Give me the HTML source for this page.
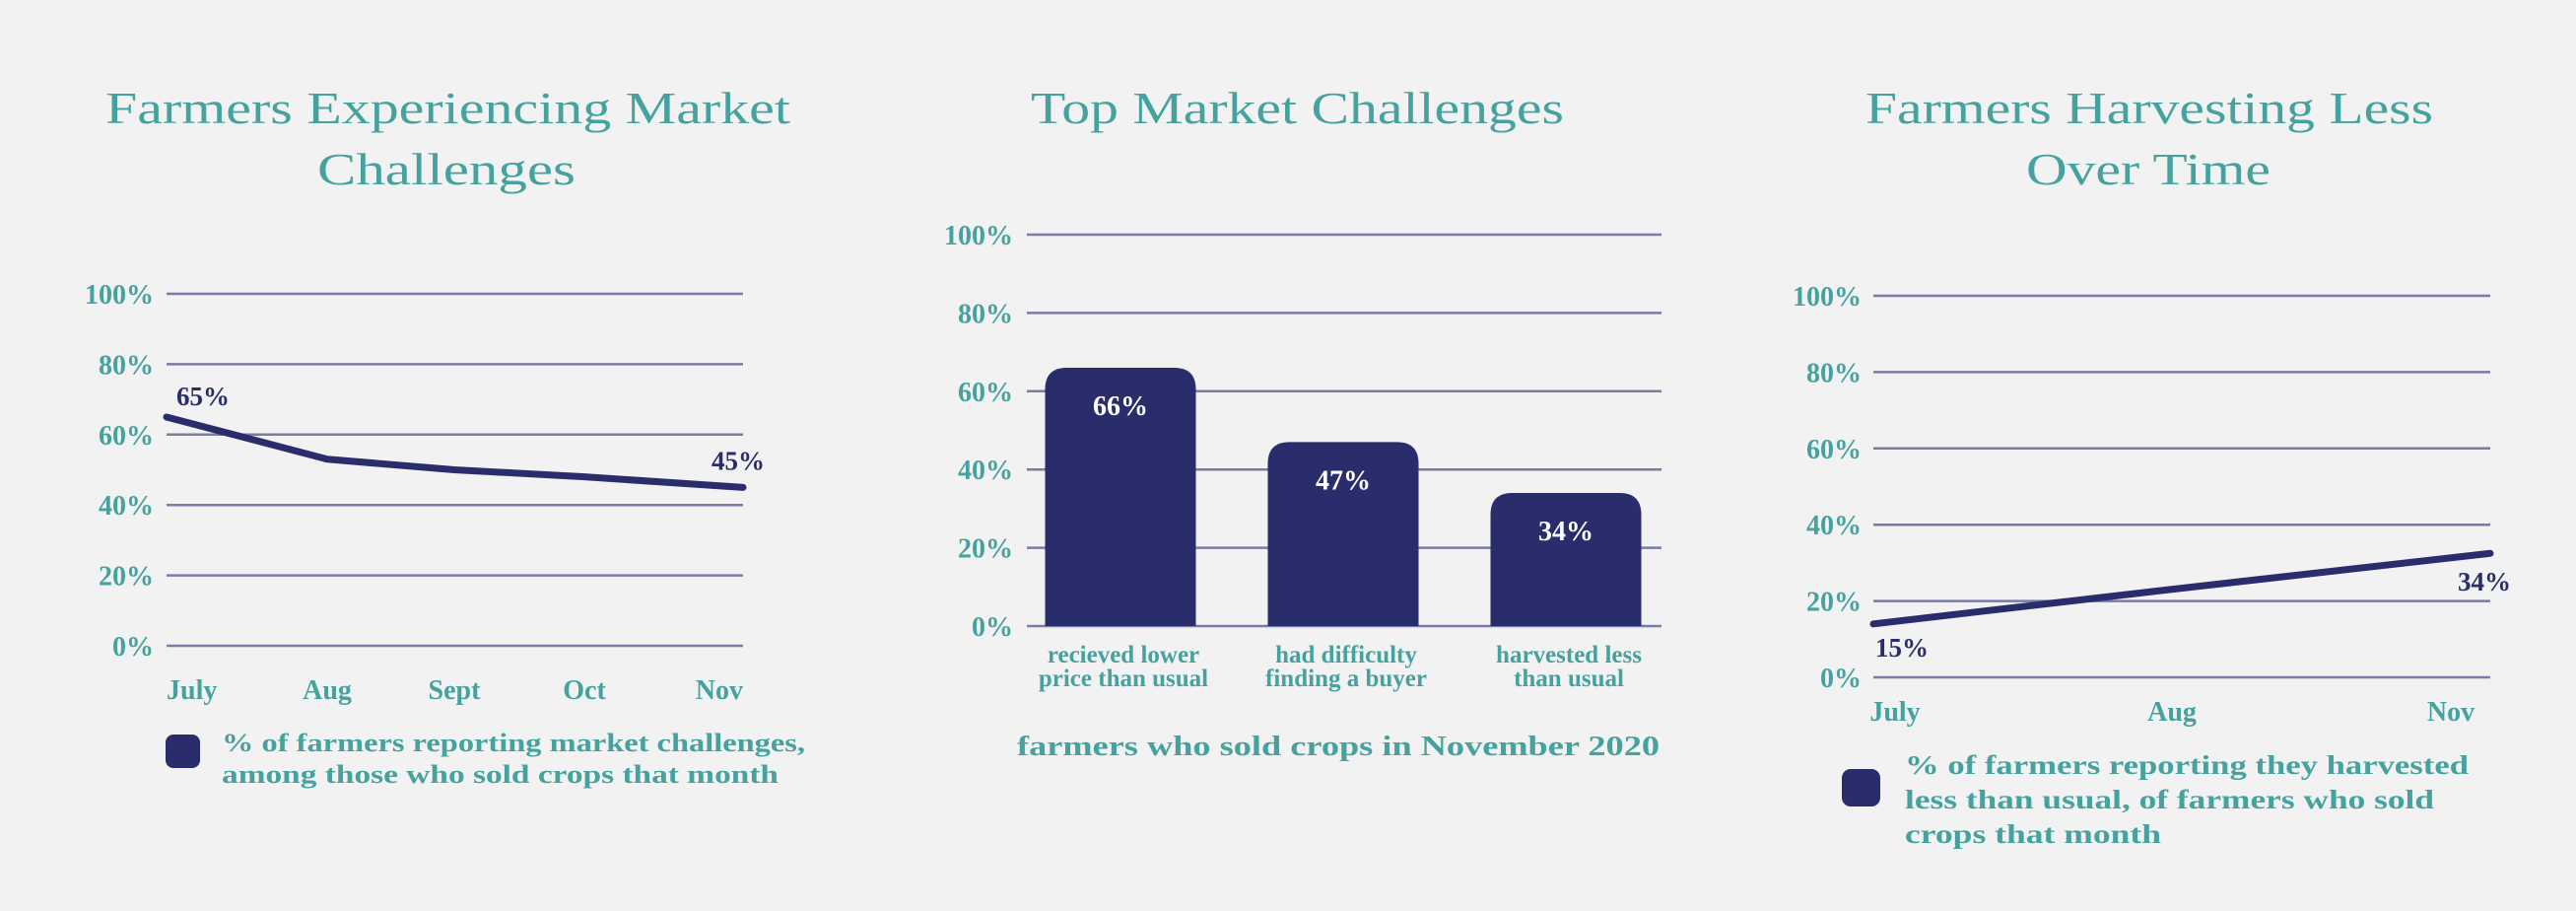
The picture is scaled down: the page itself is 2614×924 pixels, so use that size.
<!DOCTYPE html>
<html><head><meta charset="utf-8"><style>
html,body{margin:0;padding:0;background:#f2f2f2;}
svg{display:block;}
.t{font-family:"Liberation Serif",serif;fill:#45a29e;font-size:46px;}
.b{font-family:"Liberation Serif",serif;font-weight:bold;}
</style></head><body>
<svg id="s" width="2614" height="924" viewBox="0 0 2614 924" xmlns="http://www.w3.org/2000/svg">
<rect width="2614" height="924" fill="#f2f2f2"/>
<text class="t" x="107" y="125" textLength="695" lengthAdjust="spacingAndGlyphs">Farmers Experiencing Market</text>
<text class="t" x="322" y="187" textLength="262" lengthAdjust="spacingAndGlyphs">Challenges</text>
<text class="t" x="1046" y="125" textLength="541" lengthAdjust="spacingAndGlyphs">Top Market Challenges</text>
<text class="t" x="1893" y="125" textLength="576" lengthAdjust="spacingAndGlyphs">Farmers Harvesting Less</text>
<text class="t" x="2056" y="187" textLength="248" lengthAdjust="spacingAndGlyphs">Over Time</text>
<g id="g1"></g>
<g id="g2"></g>
<g id="g3"></g>
</svg>
<script>
const yTicks = [0, 20, 40, 60, 80, 100];
const yTickLabels = ["0%", "20%", "40%", "60%", "80%", "100%"];
// chart 1
const c1Months = ["July", "Aug", "Sept", "Oct", "Nov"];
const c1Values = [65, 53, 50, 48, 45];
const c1Labels = ["65%", "", "", "", "45%"];
// chart 2
const c2Categories = [["recieved lower","price than usual"],["had difficulty","finding a buyer"],["harvested less","than usual"]];
const c2Values = [66, 47, 34];
const c2Labels = ["66%", "47%", "34%"];
// chart 3
const c3Months = ["July", "Aug", "Nov"];
const c3Index = [0, 0.48, 1];
const c3Values = [14, 23, 32.5];
const c3Labels = ["15%", "", "34%"];

const NS = "http://www.w3.org/2000/svg";
const TEAL = "#45a29e", NAVY = "#2a2d6b", GRID = "#7b7ba6";
function mk(parent, tag, attrs, txt) {
  const e = document.createElementNS(NS, tag);
  for (const k in attrs) e.setAttribute(k, attrs[k]);
  if (txt !== undefined) e.textContent = txt;
  parent.appendChild(e);
  return e;
}
function grid(g, x0, x1, y, tickRight, prefix) {
  yTicks.forEach((t, i) => {
    const ln = mk(g, "line", {x1: x0, x2: x1, y1: y(t), y2: y(t), stroke: GRID, "stroke-width": 2.5});
    
    
    const tx = mk(g, "text", {x: tickRight, y: y(t) + 10, "text-anchor": "end", class: "b", "font-size": 28, fill: TEAL}, yTickLabels[i]);
    
    
  });
}

// ---- chart 1
(function(){
  const g = document.getElementById("g1");
  const x0 = 169, x1 = 754, yb = 655, yt = 298;
  const y = v => yb - (v / 100) * (yb - yt);
  const x = i => x0 + i * (x1 - x0) / (c1Months.length - 1);
  const xs = [169, 332, 461, 593, 754];
  grid(g, x0, x1, y, 156, 'chart1');
  const pts = c1Values.map((v, i) => (i === 0 || i === c1Values.length - 1 ? x(i) : xs[i] + (x(i) - xs[i]) * 0) + "," + y(v)).join(" ");
  const pl = mk(g, "polyline", {points: pts, fill: "none", stroke: NAVY, "stroke-width": 7, "stroke-linejoin": "round", "stroke-linecap": "round"});
  
  
  c1Months.forEach((m, i) => {
    const px = i === 0 || i === c1Values.length - 1 ? x(i) : xs[i];
    const anchor = i === 0 ? "start" : (i === c1Months.length - 1 ? "end" : "middle");
    const t = mk(g, "text", {x: px, y: 709, "text-anchor": anchor, class: "b", "font-size": 28, fill: TEAL}, m);
    
    
    if (c1Labels[i]) {
      const vl = mk(g, "text", {x: i === 0 ? px + 10 : px - 32, y: y(c1Values[i]) - (i === 0 ? 12 : 18), class: "b", "font-size": 27, fill: NAVY}, c1Labels[i]);
      
      
    }
  });
  const sw = mk(g, "rect", {x: 168, y: 745, width: 35, height: 34, rx: 8, fill: NAVY});
  
  
  const l1 = mk(g, "text", {x: 225, y: 762, class: "b", "font-size": 26, fill: TEAL, textLength: 592, lengthAdjust: "spacingAndGlyphs"}, "% of farmers reporting market challenges,");
  
  
  const l2 = mk(g, "text", {x: 225, y: 794, class: "b", "font-size": 26, fill: TEAL, textLength: 565, lengthAdjust: "spacingAndGlyphs"}, "among those who sold crops that month");
  
  
})();

// ---- chart 2
(function(){
  const g = document.getElementById("g2");
  const x0 = 1042, x1 = 1686, yb = 635, yt = 238;
  const y = v => yb - (v / 100) * (yb - yt);
  const band = (x1 - x0 - 20) / c2Values.length;
  const bw = 153;
  const cx = i => 1137 + i * 226;
  grid(g, x0, x1, y, 1028, 'chart2');
  c2Values.forEach((v, i) => {
    const top = y(v), h = yb - top, r = 22, L = cx(i) - bw / 2;
    const d = `M${L},${yb} V${top + r} Q${L},${top} ${L + r},${top} H${L + bw - r} Q${L + bw},${top} ${L + bw},${top + r} V${yb} Z`;
    const p = mk(g, "path", {d: d, fill: NAVY});
    
    
    const t = mk(g, "text", {x: cx(i), y: top + 48, "text-anchor": "middle", class: "b", "font-size": 28, fill: "#ffffff"}, c2Labels[i]);
    
    
    c2Categories[i].forEach((line, j) => {
      const c = mk(g, "text", {x: cx(i) + 3, y: 672 + j * 24, "text-anchor": "middle", class: "b", "font-size": 25, fill: TEAL}, line);
      
      
    });
  });
  const f = mk(g, "text", {x: 1032, y: 766, class: "b", "font-size": 29, fill: TEAL, textLength: 652, lengthAdjust: "spacingAndGlyphs"}, "farmers who sold crops in November 2020");
  
  
})();

// ---- chart 3
(function(){
  const g = document.getElementById("g3");
  const x0 = 1901, x1 = 2527, yb = 687, yt = 300;
  const y = v => yb - (v / 100) * (yb - yt);
  const x = i => x0 + c3Index[i] * (x1 - x0);
  grid(g, x0, x1, y, 1889, 'chart3');
  const pts = c3Values.map((v, i) => x(i) + "," + y(v)).join(" ");
  const pl = mk(g, "polyline", {points: pts, fill: "none", stroke: NAVY, "stroke-width": 7, "stroke-linejoin": "round", "stroke-linecap": "round"});
  
  
  const lx = [1923, 2204, 2487];
  c3Months.forEach((m, i) => {
    const t = mk(g, "text", {x: lx[i], y: 731, "text-anchor": "middle", class: "b", "font-size": 28, fill: TEAL}, m);
    
    
    if (c3Labels[i]) {
      const first = i === 0;
      const vl = mk(g, "text", {x: first ? x(i) + 2 : x(i) + 21, y: y(c3Values[i]) + (first ? 33 : 38), "text-anchor": first ? "start" : "end", class: "b", "font-size": 27, fill: NAVY}, c3Labels[i]);
      
      
    }
  });
  const sw = mk(g, "rect", {x: 1869, y: 780, width: 39, height: 38, rx: 9, fill: NAVY});
  
  
  const lines = ["% of farmers reporting they harvested", "less than usual, of farmers who sold", "crops that month"];
  const lens = [572, 537, 260];
  lines.forEach((s, j) => {
    const t = mk(g, "text", {x: 1933, y: 785 + j * 35, class: "b", "font-size": 27, fill: TEAL, textLength: lens[j], lengthAdjust: "spacingAndGlyphs"}, s);
    
    
  });
})();
</script>
</body></html>
